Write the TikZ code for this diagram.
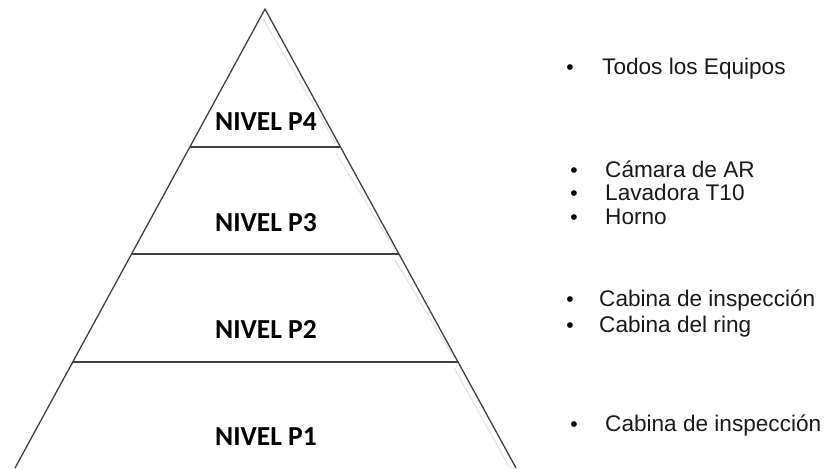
\documentclass[tikz,border=0pt]{standalone}
\usepackage{fontspec}
\setmainfont{Liberation Sans}
\newfontfamily\lvlfont{Carlito}
\usetikzlibrary{calc}
\begin{document}
\begin{tikzpicture}[x=1pt,y=-1pt,
  edge/.style={draw=black!75, line width=1.3pt},
  shade/.style={draw=black!10, line width=1.2pt},
  lvl/.style={anchor=base, inner sep=0pt, font=\lvlfont\bfseries\fontsize{27.5}{27.5}\selectfont, text=black},
  item/.style={anchor=base west, inner sep=0pt, font=\fontsize{22.6}{22.6}\selectfont, text=black!90},
  bul/.style={anchor=base, inner sep=0pt, font=\fontsize{21}{21}\selectfont, text=black}]
\useasboundingbox (0,0) rectangle (826,468);
% pyramid corners
\coordinate (apex) at (265,9);
\coordinate (bl) at (15,468);
\coordinate (br) at (516,468);
% level boundary points
\coordinate (l4) at (190,147); \coordinate (r4) at (340,147);
\coordinate (l3) at (131,254); \coordinate (r3) at (399,254);
\coordinate (l2) at (73,362);  \coordinate (r2) at (458,362);
% faint shadow
\draw[shade] ($(apex)+(-2,10)$) -- ($(r4)+(-4,-4)$);
\draw[shade] ($(r4)+(-4,6)$) -- ($(r3)+(-4,-4)$);
\draw[shade] ($(r3)+(-4,6)$) -- ($(r2)+(-4,-4)$);
\draw[shade] ($(r2)+(-4,6)$) -- ($(br)+(-6,0)$);
% outline
\draw[edge] (bl) -- (apex) -- (br);
\draw[edge] (l4) -- (r4);
\draw[edge] (l3) -- (r3);
\draw[edge] (l2) -- (r2);
% level labels
\node[lvl] (p4) at (266,130) {NIVEL P4};
\node[lvl] (p3) at (266,231) {NIVEL P3};
\node[lvl] (p2) at (266,338) {NIVEL P2};
\node[lvl] (p1) at (266,445) {NIVEL P1};
% items
\node[bul] (b1) at (570,75) {•};
\node[item] (t1) at (602,75) {Todos los Equipos};
\node[bul] (b2) at (574,177) {•};
\node[item] (t2) at (605,177) {Cámara de AR};
\node[bul] (b3) at (574,200) {•};
\node[item] (t3) at (605,200) {Lavadora T10};
\node[bul] (b4) at (574,224) {•};
\node[item] (t4) at (605,224) {Horno};
\node[bul] (b5) at (570,306) {•};
\node[item] (t5) at (599,306) {Cabina de inspección};
\node[bul] (b6) at (570,332) {•};
\node[item] (t6) at (599,332) {Cabina del ring};
\node[bul] (b7) at (574,431) {•};
\node[item] (t7) at (605,431) {Cabina de inspección};
\end{tikzpicture}
\end{document}
